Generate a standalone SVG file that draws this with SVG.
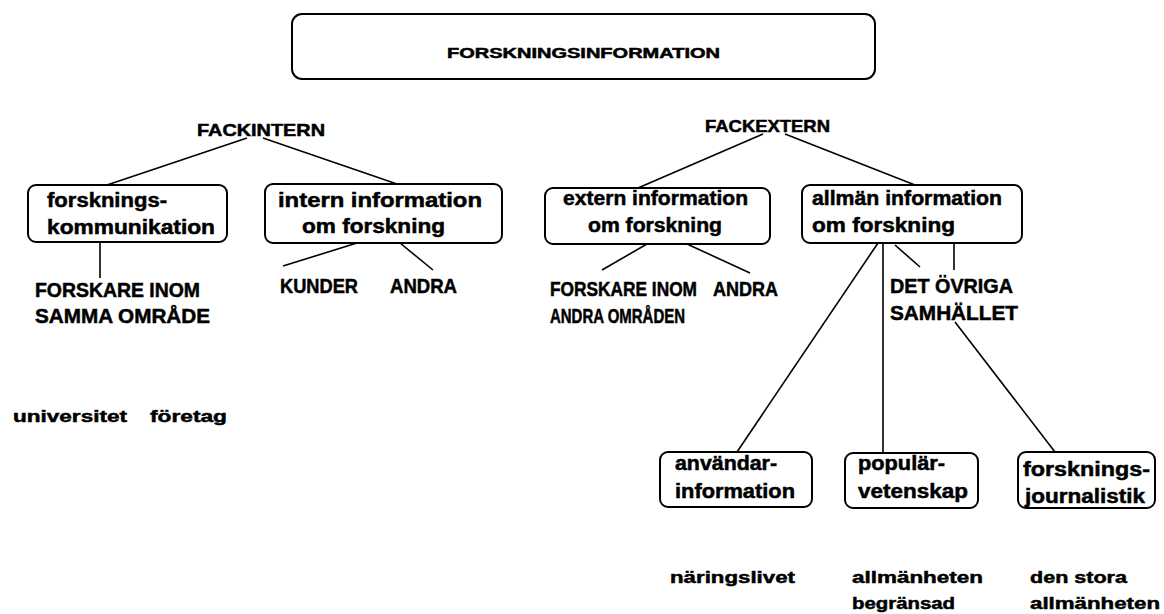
<svg xmlns="http://www.w3.org/2000/svg" width="1164" height="614" viewBox="0 0 1164 614">
<style>
.box{fill:#fff;stroke:#000;stroke-width:2}
.ln{stroke:#000;stroke-width:1.6;fill:none}
text{font-family:"Liberation Sans",Arial,sans-serif;font-weight:bold;fill:#000;stroke:#000;stroke-width:0.5}
.t20{font-size:20px}
.t17{font-size:17px}
.t14{font-size:14px}
</style>
<rect width="1164" height="614" fill="#fff"/>
<g id="connectors">
<line class="ln" x1="247" y1="138" x2="107" y2="185"/>
<line class="ln" x1="263" y1="138" x2="397" y2="184"/>
<line class="ln" x1="100" y1="243" x2="100" y2="278"/>
<line class="ln" x1="357" y1="243" x2="283" y2="266"/>
<line class="ln" x1="400" y1="243" x2="433" y2="270"/>
<line class="ln" x1="763" y1="134" x2="638" y2="188"/>
<line class="ln" x1="785" y1="134" x2="915" y2="185"/>
<line class="ln" x1="647" y1="244" x2="602" y2="270"/>
<line class="ln" x1="687" y1="244" x2="750" y2="273"/>
<line class="ln" x1="878" y1="243" x2="737" y2="452"/>
<line class="ln" x1="883" y1="243" x2="883" y2="453"/>
<line class="ln" x1="895" y1="245" x2="920" y2="267"/>
<line class="ln" x1="954" y1="243" x2="954" y2="270"/>
<line class="ln" x1="955" y1="322" x2="1055" y2="452"/>
</g>
<g id="title">
<rect class="box" x="292" y="14" width="583" height="65" rx="10"/>
<text class="t14" x="447" y="58" textLength="273" lengthAdjust="spacingAndGlyphs">FORSKNINGSINFORMATION</text>
</g>
<g id="fackintern">
<text class="t17" x="197" y="136" textLength="128" lengthAdjust="spacingAndGlyphs">FACKINTERN</text>
</g>
<g id="fackextern">
<text class="t17" x="705" y="132" textLength="125" lengthAdjust="spacingAndGlyphs">FACKEXTERN</text>
</g>
<g id="forskningskommunikation">
<rect class="box" x="28" y="185" width="199" height="57" rx="8"/>
<text class="t20" x="47" y="207" textLength="120" lengthAdjust="spacingAndGlyphs">forsknings-</text>
<text class="t20" x="47" y="234" textLength="168" lengthAdjust="spacingAndGlyphs">kommunikation</text>
</g>
<g id="intern">
<rect class="box" x="265" y="184" width="237" height="59" rx="8"/>
<text class="t20" x="278" y="207" textLength="204" lengthAdjust="spacingAndGlyphs">intern information</text>
<text class="t20" x="302" y="233" textLength="143" lengthAdjust="spacingAndGlyphs">om forskning</text>
</g>
<g id="forskare-samma">
<text class="t20" x="35" y="297" textLength="165" lengthAdjust="spacingAndGlyphs">FORSKARE INOM</text>
<text class="t20" x="35" y="323" textLength="175" lengthAdjust="spacingAndGlyphs">SAMMA OMRÅDE</text>
</g>
<g id="kunder"><text class="t20" x="280" y="293" textLength="78" lengthAdjust="spacingAndGlyphs">KUNDER</text></g>
<g id="andra-intern"><text class="t20" x="390" y="293" textLength="67" lengthAdjust="spacingAndGlyphs">ANDRA</text></g>
<g id="universitet"><text class="t17" x="13" y="422" textLength="114" lengthAdjust="spacingAndGlyphs">universitet</text></g>
<g id="foretag"><text class="t17" x="150" y="422" textLength="77" lengthAdjust="spacingAndGlyphs">företag</text></g>
<g id="extern">
<rect class="box" x="545" y="188" width="225" height="56" rx="8"/>
<text class="t20" x="563" y="205" textLength="185" lengthAdjust="spacingAndGlyphs">extern information</text>
<text class="t20" x="588" y="232" textLength="134" lengthAdjust="spacingAndGlyphs">om forskning</text>
</g>
<g id="allman">
<rect class="box" x="802" y="185" width="220" height="58" rx="8"/>
<text class="t20" x="812" y="205" textLength="190" lengthAdjust="spacingAndGlyphs">allmän information</text>
<text class="t20" x="812" y="232" textLength="143" lengthAdjust="spacingAndGlyphs">om forskning</text>
</g>
<g id="forskare-andra">
<text class="t20" x="550" y="296" textLength="147" lengthAdjust="spacingAndGlyphs">FORSKARE INOM</text>
<text class="t20" x="550" y="323" textLength="135" lengthAdjust="spacingAndGlyphs">ANDRA OMRÅDEN</text>
</g>
<g id="andra-extern"><text class="t20" x="713" y="296" textLength="65" lengthAdjust="spacingAndGlyphs">ANDRA</text></g>
<g id="ovriga">
<text class="t20" x="890" y="293" textLength="123" lengthAdjust="spacingAndGlyphs">DET ÖVRIGA</text>
<text class="t20" x="890" y="320" textLength="128" lengthAdjust="spacingAndGlyphs">SAMHÄLLET</text>
</g>
<g id="anvandar">
<rect class="box" x="660" y="452" width="152" height="55" rx="8"/>
<text class="t20" x="675" y="470" textLength="102" lengthAdjust="spacingAndGlyphs">användar-</text>
<text class="t20" x="675" y="498" textLength="120" lengthAdjust="spacingAndGlyphs">information</text>
</g>
<g id="popular">
<rect class="box" x="845" y="453" width="133" height="55" rx="8"/>
<text class="t20" x="858" y="470" textLength="87" lengthAdjust="spacingAndGlyphs">populär-</text>
<text class="t20" x="858" y="498" textLength="110" lengthAdjust="spacingAndGlyphs">vetenskap</text>
</g>
<g id="journalistik">
<rect class="box" x="1018" y="452" width="137" height="56" rx="8"/>
<text class="t20" x="1023" y="476" textLength="127" lengthAdjust="spacingAndGlyphs">forsknings-</text>
<text class="t20" x="1025" y="503" textLength="120" lengthAdjust="spacingAndGlyphs">journalistik</text>
</g>
<g id="naringslivet"><text class="t17" x="670" y="583" textLength="125" lengthAdjust="spacingAndGlyphs">näringslivet</text></g>
<g id="allmanheten-begransad">
<text class="t17" x="852" y="583" textLength="131" lengthAdjust="spacingAndGlyphs">allmänheten</text>
<text class="t17" x="852" y="609" textLength="103" lengthAdjust="spacingAndGlyphs">begränsad</text>
</g>
<g id="den-stora">
<text class="t17" x="1030" y="583" textLength="97" lengthAdjust="spacingAndGlyphs">den stora</text>
<text class="t17" x="1030" y="609" textLength="130" lengthAdjust="spacingAndGlyphs">allmänheten</text>
</g>
</svg>
